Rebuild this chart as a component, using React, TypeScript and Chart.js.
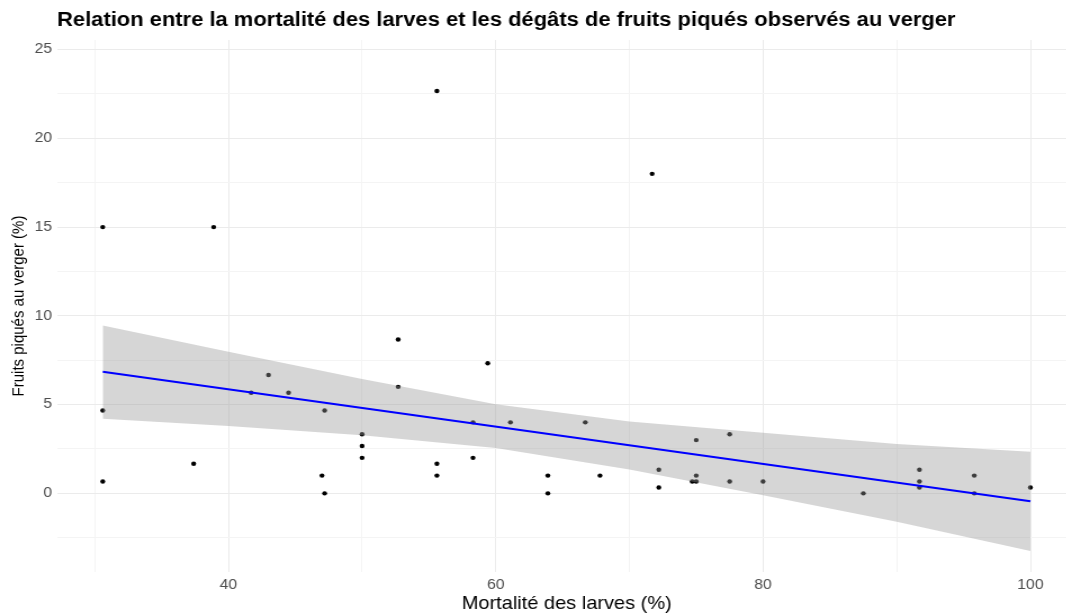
import React, { useEffect, useRef } from "react";
import { Chart, registerables } from "chart.js";

Chart.register(...registerables);

// Observed points
const mortalite = [
  30.6, 30.6, 30.6, 38.9, 37.4, 41.7, 43.0, 44.5, 47.2, 47.0, 47.2,
  50.0, 50.0, 50.0, 52.7, 52.7, 55.6, 55.6, 55.6, 58.3, 58.3, 59.4,
  61.1, 63.9, 63.9, 66.7, 67.8, 71.7, 72.2, 72.2, 75.0, 75.0, 74.7,
  75.0, 77.5, 77.5, 80.0, 87.5, 91.7, 91.7, 91.7, 95.8, 95.8, 100.0,
];
const fruitsPiques = [
  15, 4.67, 0.67, 15, 1.67, 5.67, 6.67, 5.67, 4.67, 1, 0,
  3.33, 2.67, 2, 8.67, 6, 22.67, 1.67, 1, 4, 2, 7.33,
  4, 1, 0, 4, 1, 18, 1.33, 0.33, 3, 1, 0.67,
  0.67, 3.33, 0.67, 0.67, 0, 1.33, 0.67, 0.33, 1, 0, 0.33,
];

// Linear fit and confidence band
const fitX = [30.6, 100];
const fitY = [6.85, -0.45];
const bandX = [30.6, 40, 50, 60, 70, 80, 90, 100];
const bandHigh = [9.46, 7.98, 6.44, 5.02, 4.05, 3.41, 2.78, 2.34];
const bandLow = [4.2, 3.79, 3.27, 2.55, 1.35, -0.1, -1.6, -3.25];

const xTicksLabelled = [40, 60, 80, 100];
const yTicksLabelled = [0, 5, 10, 15, 20, 25];

const FONT = "'Liberation Sans', Arial, Helvetica, sans-serif";

// The reference picture is slightly stretched horizontally and its panel runs past the right edge:
// render narrower, display wider, and clip to the page size.
const STRETCH_X = 1066 / 948;
const RENDER_W = 961;
const RENDER_H = 615;
const PAGE_W = 1066;
const PAGE_H = 615;

export default function App() {
  const ref = useRef<HTMLCanvasElement | null>(null);

  useEffect(() => {
    document.body.style.margin = "0";
    const canvas = ref.current;
    if (!canvas) return;
    const pts = mortalite.map((x, i) => ({ x, y: fruitsPiques[i] }));
    const hi = bandX.map((x, i) => ({ x, y: bandHigh[i] }));
    const lo = bandX.map((x, i) => ({ x, y: bandLow[i] }));
    const fit = fitX.map((x, i) => ({ x, y: fitY[i] }));

    const chart = new Chart(canvas, {
      type: "scatter",
      data: {
        datasets: [
          {
            label: "points",
            data: pts,
            order: 3,
            pointRadius: 2.2,
            pointBackgroundColor: "#000000",
            pointBorderWidth: 0,
            showLine: false,
          },
          {
            label: "bandHigh",
            data: hi,
            order: 2,
            showLine: true,
            pointRadius: 0,
            borderWidth: 0,
            borderColor: "rgba(0,0,0,0)",
            backgroundColor: "rgba(153,153,153,0.4)",
            fill: "+1",
          },
          {
            label: "bandLow",
            data: lo,
            order: 2,
            showLine: true,
            pointRadius: 0,
            borderWidth: 0,
            borderColor: "rgba(0,0,0,0)",
            fill: false,
          },
          {
            label: "fit",
            data: fit,
            order: 1,
            showLine: true,
            pointRadius: 0,
            borderWidth: 2,
            borderColor: "#0000FF",
            fill: false,
          },
        ],
      },
      options: {
        responsive: false,
        animation: false,
        devicePixelRatio: 1,
        layout: { padding: 0 },
        plugins: {
          legend: { display: false },
          tooltip: { enabled: false },
          title: {
            display: true,
            text: "Relation entre la mortalité des larves et les dégâts de fruits piqués observés au verger",
            align: "start",
            fullSize: false,
            color: "#000000",
            font: { family: FONT, size: 19.5, weight: "bold" },
            padding: { top: 8.8, bottom: 7.8 },
          },
        },
        scales: {
          x: {
            type: "linear",
            min: 27.18,
            max: 103.45,
            border: { display: false },
            grid: {
              drawTicks: false,
              lineWidth: 1,
              color: (ctx: any) =>
                xTicksLabelled.includes(Math.round(ctx.tick?.value)) ? "#EBEBEB" : "#F4F4F4",
            },
            ticks: {
              stepSize: 10,
              includeBounds: false,
              autoSkip: false,
              maxRotation: 0,
              padding: 5,
              color: "#4D4D4D",
              font: { family: FONT, size: 14 },
              callback: (v: any) => (xTicksLabelled.includes(Number(v)) ? String(v) : ""),
            },
            title: {
              display: true,
              text: "Mortalité des larves (%)",
              color: "#000000",
              font: { family: FONT, size: 17.8 },
              padding: { top: 0, bottom: 0.3 },
            },
            afterFit: (s: any) => {
              s.height = 43;
            },
          },
          y: {
            type: "linear",
            min: -4.43,
            max: 25.54,
            border: { display: false },
            grid: {
              drawTicks: false,
              lineWidth: 1,
              color: (ctx: any) => {
                const v = ctx.tick?.value;
                return yTicksLabelled.some((t) => Math.abs(t - v) < 1e-6) ? "#EBEBEB" : "#F4F4F4";
              },
            },
            ticks: {
              stepSize: 2.5,
              includeBounds: false,
              autoSkip: false,
              padding: 4.5,
              color: "#4D4D4D",
              font: { family: FONT, size: 14 },
              callback: (v: any) =>
                yTicksLabelled.some((t) => Math.abs(t - Number(v)) < 1e-6) ? String(Math.round(Number(v))) : "",
            },
            title: {
              display: true,
              text: "Fruits piqués au verger (%)",
              color: "#000000",
              font: { family: FONT, size: 15 },
              padding: { top: 7.4, bottom: 0 },
            },
            afterFit: (s: any) => {
              s.width = 50.7;
            },
          },
        },
      },
    });
    return () => chart.destroy();
  }, []);

  return (
    <div style={{ width: PAGE_W, height: PAGE_H, overflow: "hidden", background: "#ffffff" }}>
      <canvas
        ref={ref}
        width={RENDER_W}
        height={RENDER_H}
        style={{ display: "block", width: RENDER_W * STRETCH_X + "px", height: RENDER_H + "px" }}
      />
    </div>
  );
}
